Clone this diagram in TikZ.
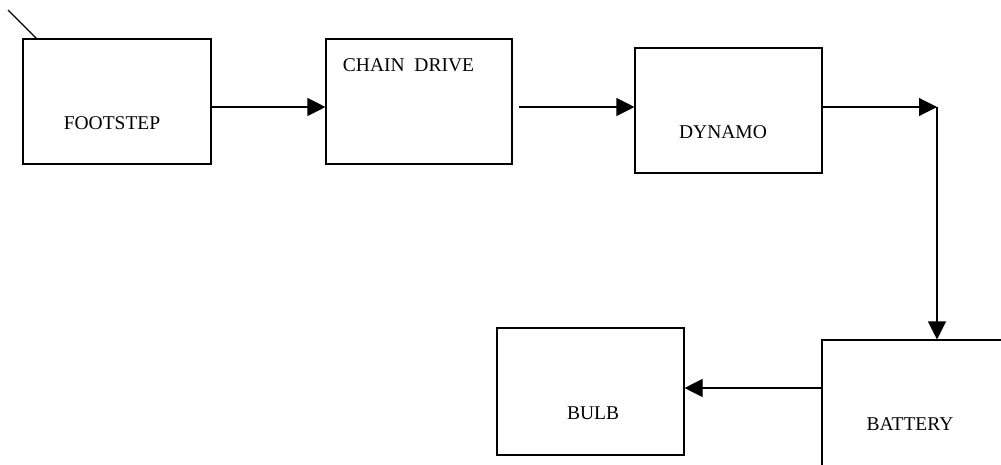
\documentclass[tikz,border=0pt]{standalone}
\usepackage{fontspec}
\setmainfont{Liberation Serif}
\usetikzlibrary{arrows.meta,positioning}
\tikzstyle{block} = [draw, rectangle, line width=1.1pt, minimum width=187pt,
    minimum height=125pt, inner sep=0pt]
\tikzstyle{link} = [-{Triangle[length=18pt,width=18pt]}, line width=1.1pt]

\begin{document}
\begin{tikzpicture}[x=1pt, y=-1pt, font=\fontsize{19.5}{23}\selectfont]
  \useasboundingbox (0,0) rectangle (1001,464);
  \node [block, minimum width=188pt,
    label={[xshift=-5pt,yshift=-21.5pt]center:FOOTSTEP}] (foot) at (117,101.5) {};
  \node [block, right of=foot, node distance=302pt, minimum width=186pt,
    label={[xshift=-10.5pt,yshift=36.5pt]center:CHAIN~~DRIVE}] (chain) {};
  \node [block, label={[xshift=-5.5pt,yshift=-21.5pt]center:DYNAMO}] (dyn) at (728.5,110.5) {};
  \node [block, minimum width=190pt, minimum height=130pt,
    label={[xshift=-7pt,yshift=-19.5pt]center:BATTERY}] (bat) at (917,405) {};
  \node [block, minimum height=127pt,
    label={[xshift=2.5pt,yshift=-21.5pt]center:BULB}] (bulb) at (590.5,391.5) {};
  \coordinate (tip) at (8,10);
  \coordinate (turn) at (937,107);
  \draw [line width=1.1pt] (tip) -- ([xshift=14pt]foot.north west);
  \draw [link] ([yshift=-5.5pt]foot.east) -- ([yshift=-5.5pt]chain.west);
  \draw [link] ([xshift=6pt,yshift=-5.5pt]chain.east) -- ([yshift=3.5pt]dyn.west);
  \draw [link] ([yshift=3.5pt]dyn.east) -- (turn);
  \draw [link] (turn) -- (turn |- bat.north);
  \draw [link] (bat.west |- bulb.east) ++(0,-3.5) -- ([yshift=3.5pt]bulb.east);
\end{tikzpicture}
\end{document}
